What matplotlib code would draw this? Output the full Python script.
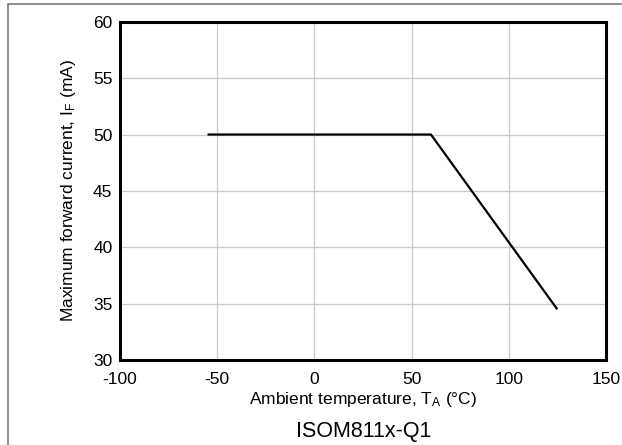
import matplotlib.pyplot as plt
from matplotlib.patches import Rectangle

plt.rcParams['font.family'] = ['Liberation Sans', 'DejaVu Sans']
plt.rcParams['mathtext.default'] = 'regular'
plt.rcParams['axes.unicode_minus'] = False

# derating curve
temp_c = [-55, 60, 125]
current_ma = [50, 50, 34.5]

x_ticks = [-100, -50, 0, 50, 100, 150]
y_ticks = [30, 35, 40, 45, 50, 55, 60]

fig = plt.figure(figsize=(6.22, 4.45), dpi=100)
ax = fig.add_axes([0.193, 0.191, 0.781, 0.760])

ax.plot(temp_c, current_ma, color='black', lw=1.6, solid_capstyle='butt')

ax.set_xlim(-100, 150)
ax.set_ylim(30, 60)
ax.set_xticks(x_ticks)
ax.set_yticks(y_ticks)
ax.tick_params(length=0, labelsize=12.5)
ax.tick_params(axis='x', pad=8.5)
ax.tick_params(axis='y', pad=5.5)
ax.grid(True, color='#c8c8c8', lw=0.9)
ax.set_axisbelow(True)
for s in ax.spines.values():
    s.set_linewidth(2.2)

ax.set_xlabel('Ambient temperature, $T_A$ (°C)', fontsize=12.5, labelpad=2)
ax.set_ylabel('Maximum forward current, $I_F$ (mA)', fontsize=12.5, labelpad=11)

fig.text(0.584, 0.031, 'ISOM811x-Q1', ha='center', va='center', fontsize=15.5)

# outer frame
fig.patches.append(Rectangle((0.0129, -0.05), 1.1, 1.042, transform=fig.transFigure,
                             fill=False, edgecolor='#707070', lw=1.1, clip_on=False))

fig.savefig('out.png', dpi=100)
